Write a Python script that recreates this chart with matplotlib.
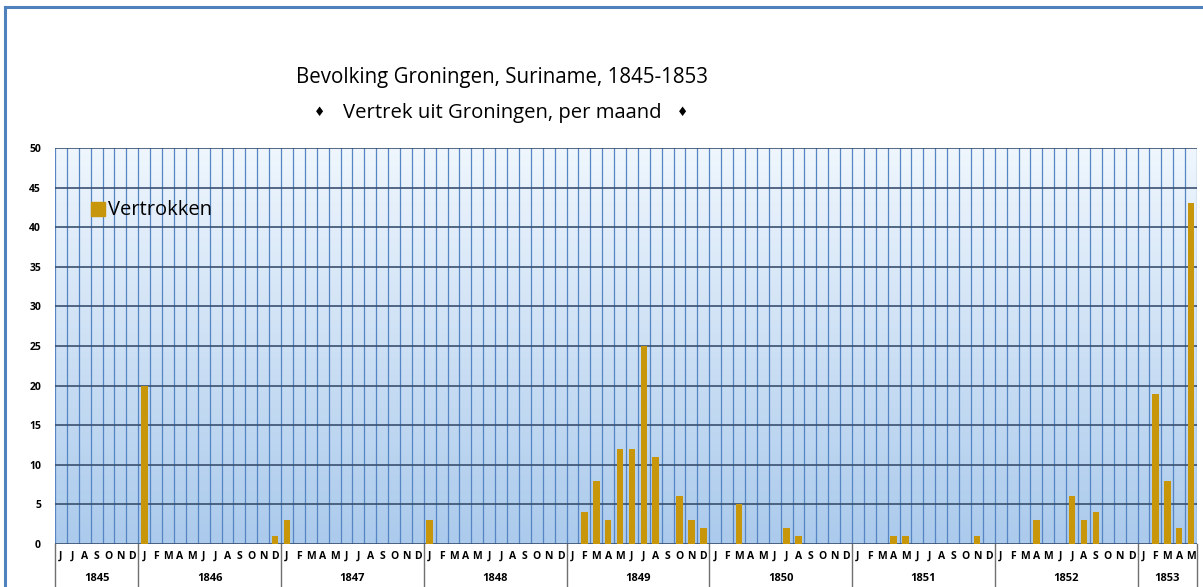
import numpy as np
import matplotlib.pyplot as plt
from matplotlib.colors import LinearSegmentedColormap
from matplotlib.lines import Line2D
from matplotlib.patches import Rectangle
from matplotlib.transforms import blended_transform_factory

# data: departures per month, June 1845 - May 1853
years = ["1845", "1846", "1847", "1848", "1849", "1850", "1851", "1852", "1853"]
months_1845 = ["J", "J", "A", "S", "O", "N", "D"]
months_full = ["J", "F", "M", "A", "M", "J", "J", "A", "S", "O", "N", "D"]
months_1853 = ["J", "F", "M", "A", "M"]

v1845 = [0, 0, 0, 0, 0, 0, 0]
v1846 = [20, 0, 0, 0, 0, 0, 0, 0, 0, 0, 0, 1]
v1847 = [3, 0, 0, 0, 0, 0, 0, 0, 0, 0, 0, 0]
v1848 = [3, 0, 0, 0, 0, 0, 0, 0, 0, 0, 0, 0]
v1849 = [0, 4, 8, 3, 12, 12, 25, 11, 0, 6, 3, 2]
v1850 = [0, 0, 5, 0, 0, 0, 2, 1, 0, 0, 0, 0]
v1851 = [0, 0, 0, 1, 1, 0, 0, 0, 0, 0, 1, 0]
v1852 = [0, 0, 0, 3, 0, 0, 6, 3, 4, 0, 0, 0]
v1853 = [0, 19, 8, 2, 43]

month_groups = [months_1845] + [months_full] * 7 + [months_1853]
value_groups = [v1845, v1846, v1847, v1848, v1849, v1850, v1851, v1852, v1853]

labels = [m for g in month_groups for m in g]
values = [v for g in value_groups for v in g]
n = len(values)
x = np.arange(n)

W, H = 1203, 587
fig = plt.figure(figsize=(W / 100, H / 100), dpi=100, facecolor="white")
font = "Open Sans"

L, R, T, B = 55, 1197, 148, 544
ax = fig.add_axes([L / W, 1 - B / H, (R - L) / W, (B - T) / H])

# gradient background
cmap = LinearSegmentedColormap.from_list("bg", ["#abcaec", "#eff6fd"])
grad = np.linspace(0, 1, 256).reshape(-1, 1)
ax.imshow(grad, extent=[-0.5, n - 0.5, 0, 50], origin="lower", aspect="auto",
          cmap=cmap, zorder=0)

for k in range(n + 1):
    ax.axvline(k - 0.5, color="#5585c2", lw=0.9, zorder=1)
for yv in range(0, 51, 5):
    ax.axhline(yv, color="#3a5070", lw=1.2, zorder=1)

ax.bar(x, values, width=0.56, color="#c8960a", zorder=3)

ax.set_xlim(-0.5, n - 0.5)
ax.set_ylim(0, 50)
ax.set_yticks(range(0, 51, 5))
ax.set_yticklabels([str(t) for t in range(0, 51, 5)], fontsize=7.5,
                   fontweight="bold", family=font)
ax.tick_params(axis="y", length=0, pad=10)
ax.set_xticks([])
for s in ax.spines.values():
    s.set_visible(False)

# category labels below the plot
tr = blended_transform_factory(ax.transData, ax.transAxes)
for i, lab in enumerate(labels):
    ax.text(i, -0.031, lab, transform=tr, ha="center", va="center",
            fontsize=7.5, fontweight="bold", family=font)

start = 0
bounds = [start]
for g in month_groups:
    start += len(g)
    bounds.append(start)
for yr, a, b in zip(years, bounds[:-1], bounds[1:]):
    ax.text((a + b - 1) / 2, -0.088, yr, transform=tr, ha="center",
            va="center", fontsize=8, fontweight="bold", family=font)
for b in bounds:
    ax.add_line(Line2D([b - 0.5, b - 0.5], [0, -0.11], transform=tr,
                       color="#707070", lw=1.0, clip_on=False))

# legend
ax.add_patch(Rectangle((91 / W, 1 - 216 / H), 14 / W, 14 / H,
                       transform=fig.transFigure, color="#c8960a",
                       zorder=5, clip_on=False))
fig.text(108 / W, 1 - 210 / H, "Vertrokken", fontsize=14.5, family=font,
         va="center", ha="left")

# titles
fig.text(502 / W, 1 - 77 / H, "Bevolking Groningen, Suriname, 1845-1853",
         fontsize=14.8, family=font, ha="center", va="center")
fig.text(502 / W, 1 - 113 / H, "Vertrek uit Groningen, per maand",
         fontsize=14.6, family=font, ha="center", va="center")
for dx in (320, 683):
    fig.text(dx / W, 1 - 112 / H, "\u2666", fontsize=9,
             family="DejaVu Sans", ha="center", va="center")

# frame
fig.add_artist(Line2D([5 / W, 1], [1 - 7 / H, 1 - 7 / H], transform=fig.transFigure,
                      color="#4f81bd", lw=2.2))
fig.add_artist(Line2D([5 / W, 5 / W], [0, 1 - 7 / H], transform=fig.transFigure,
                      color="#4f81bd", lw=2.2))

fig.savefig("out.png", dpi=100)
